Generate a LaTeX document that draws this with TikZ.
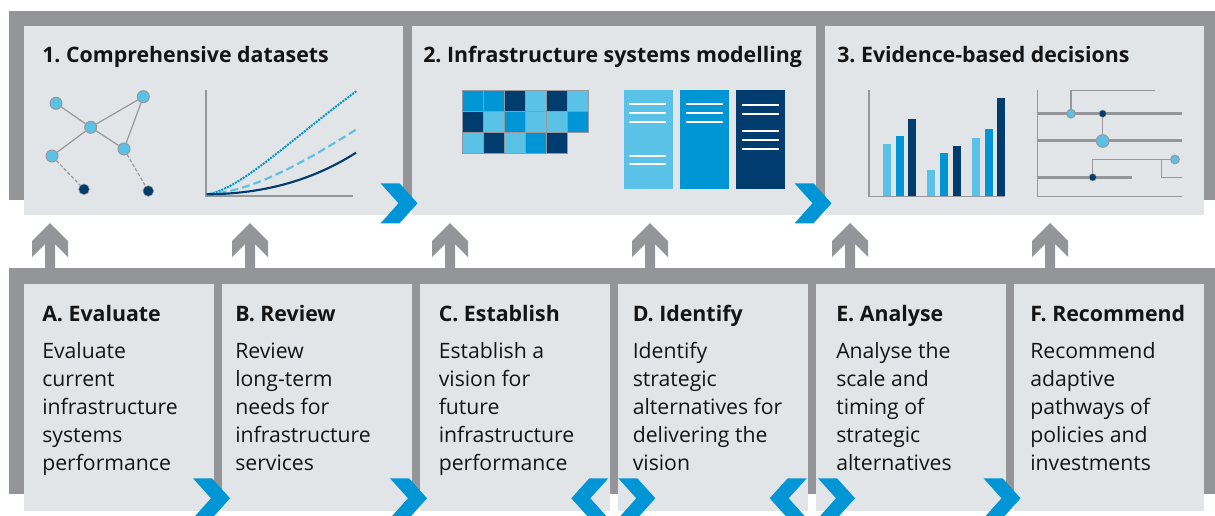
\documentclass[tikz,border=0pt]{standalone}
\usepackage{fontspec}
\setmainfont{Open Sans}
\frenchspacing
\definecolor{framec}{RGB}{147,149,152}
\definecolor{panelc}{RGB}{226,229,231}
\definecolor{lblue}{RGB}{91,194,231}
\definecolor{mblue}{RGB}{0,150,214}
\definecolor{navy}{RGB}{0,60,110}
\definecolor{icongray}{RGB}{150,152,155}
\definecolor{txt}{RGB}{20,20,20}
\newcommand\chevR[2]{\fill[chev] (#1,#2) -- ++(19,0) -- ++(18,20) -- ++(-18,20) -- ++(-19,0) -- ++(18,-20) -- cycle;}
\newcommand\chevL[2]{\fill[chev] (#1,#2) -- ++(-19,0) -- ++(-18,20) -- ++(18,20) -- ++(19,0) -- ++(-18,-20) -- cycle;}
\begin{document}
\begin{tikzpicture}[x=0.75pt,y=-0.75pt,
  panel/.style={fill=panelc},
  framebg/.style={fill=framec},
  chev/.style={fill=mblue},
  title/.style={font=\fontsize{16}{18}\selectfont\bfseries, text=txt, anchor=base west, inner sep=0pt},
  head/.style={font=\fontsize{16}{18}\selectfont\bfseries, text=txt, anchor=base west, inner sep=0pt},
  body/.style={font=\fontsize{15.9}{21}\selectfont, text=txt, anchor=base west, inner sep=0pt, align=left},
  lnode/.style={circle, fill=lblue, draw=icongray, line width=0.75pt, minimum size=9pt, inner sep=0pt},
  dnode/.style={circle, fill=navy, draw=icongray, line width=0.4pt, minimum size=8pt, inner sep=0pt},
  edge/.style={draw=icongray, line width=0.9pt},
  axis/.style={draw=icongray, line width=0.8pt},
  thick line/.style={draw=framec, line width=1.9pt},
  thin line/.style={draw=icongray, line width=0.9pt},
  docline/.style={draw=white, line width=1.5pt}
]
\useasboundingbox (0,0) rectangle (1215,515);

% ---------- top frame and panels ----------
\path[framebg] (9,11) rectangle (1215,200);
\path[panel] (24,26) rectangle (403,215);
\path[panel] (412,26) rectangle (816,215);
\path[panel] (825,26) rectangle (1204,215);

% ---------- bottom frame and panels ----------
\path[framebg] (9,268) rectangle (1215,494);
\foreach \x in {24,222,420,618,816,1014}{
  \path[panel] (\x,284) rectangle (\x+190,511);
}

% ---------- up arrows ----------
\foreach \ax in {50,250,450,650,850,1050}{
  \fill[framec] (\ax,223) -- ++(18,18) -- ++(0,16) -- ++(-13,-13) -- ++(0,25) -- ++(-10,0) -- ++(0,-25) -- ++(-13,13) -- ++(0,-16) -- cycle;
}

% ---------- titles ----------
\node[title] (t1) at (42,62) {1. Comprehensive datasets};
\node[title] (t2) at (423,62) {2. Infrastructure systems modelling};
\node[title] (t3) at (837,62) {3. Evidence-based decisions};

% ---------- panel 1 icons: network ----------
\node[lnode] (n1) at (56,103.3) {};
\node[lnode] (n2) at (143.3,96.7) {};
\node[lnode] (n3) at (90.7,127.3) {};
\node[lnode] (n4) at (124,149) {};
\node[lnode] (n5) at (52,156) {};
\node[dnode] (d1) at (84,189.3) {};
\node[dnode] (d2) at (148.3,191) {};
\draw[edge] (n1) -- (n3);
\draw[edge] (n3) -- (n2);
\draw[edge] (n2) -- (n4);
\draw[edge] (n3) -- (n4);
\draw[edge] (n3) -- (n5);
\draw[edge, dashed, dash pattern=on 2.5pt off 1.5pt] (n5) -- (d1);
\draw[edge, dashed, dash pattern=on 2.5pt off 1.5pt] (n4) -- (d2);

% ---------- panel 1 icons: chart ----------
\coordinate (c0) at (206.7,194.3);
\draw[axis] (206,90) -- (206,196) -- (353,196);
\draw[mblue, line width=1.5pt, dash pattern=on 1.5pt off 0.8pt] (c0) .. controls (240,190) and (290,140) .. (357,90.7);
\draw[lblue, line width=1.6pt, dash pattern=on 6pt off 3pt] (c0) .. controls (250,192) and (300,165) .. (357,129);
\draw[navy, line width=1.6pt] (c0) .. controls (260,194) and (310,182) .. (356,152.7);

% ---------- panel 2 icons: grid ----------
\foreach \c [count=\i from 0] in {mblue,mblue,navy,lblue,navy,lblue}
  \filldraw[fill=\c, draw=icongray, line width=0.75pt] (462.3+21*\i,90) rectangle ++(21,21);
\foreach \c [count=\i from 0] in {navy,lblue,mblue,lblue,lblue,mblue}
  \filldraw[fill=\c, draw=icongray, line width=0.75pt] (462.3+21*\i,111) rectangle ++(21,21);
\foreach \c [count=\i from 0] in {lblue,navy,lblue,mblue,navy}
  \filldraw[fill=\c, draw=icongray, line width=0.75pt] (462.3+21*\i,132) rectangle ++(21,21);

% ---------- panel 2 icons: documents ----------
\fill[lblue] (624,90) rectangle (673,188.7);
\fill[mblue] (680,90) rectangle (729,188.7);
\fill[navy] (736,90) rectangle (785,188.7);
\foreach \y in {104.3,113.3,122.3,155.7,164.3} \draw[docline] (629.3,\y) -- (666.3,\y);
\foreach \y in {104.3,113.3,122.3} \draw[docline] (686,\y) -- (722.7,\y);
\foreach \y in {105.3,114,131,139.7,148.7} \draw[docline] (741.7,\y) -- (778.7,\y);

% ---------- panel 3 icons: bar chart ----------
\fill[lblue] (883,144) rectangle (891,196.7);
\fill[mblue] (896,136) rectangle (904,196.7);
\fill[navy] (908,119) rectangle (916,196.7);
\fill[lblue] (927,170) rectangle (935,196.7);
\fill[mblue] (940,153) rectangle (948,196.7);
\fill[navy] (953,146) rectangle (961,196.7);
\fill[lblue] (972,138) rectangle (980,196.7);
\fill[mblue] (985,129) rectangle (993,196.7);
\fill[navy] (997,98) rectangle (1005,196.7);
\draw[axis] (869,90) -- (869,196.7) -- (1005,196.7);

% ---------- panel 3 icons: decision tree ----------
\draw[axis] (1037.5,90) -- (1037.5,196.5) -- (1181.5,196.5);
\draw[thick line] (1037.5,113.7) -- (1181.5,113.7);
\draw[thick line] (1037.5,140.7) -- (1181.5,140.7);
\draw[thick line] (1037.5,177.3) -- (1131.7,177.3);
\node[lnode, minimum size=6.5pt] (k1) at (1071,113.7) {};
\node[dnode, minimum size=5.5pt] (k2) at (1102.7,113.7) {};
\node[lnode, minimum size=9.5pt] (k3) at (1102.7,141) {};
\node[lnode, minimum size=6.5pt] (k4) at (1175,159.5) {};
\node[dnode, minimum size=5.5pt] (k5) at (1092.7,177.3) {};
\draw[thin line] (k1) |- (1155,90.7);
\draw[thin line] (k2) -- (k3);
\draw[thin line] (k5) |- (k4);
\draw[thin line] (1161.7,159.5) |- (1181.5,177.3);

% ---------- top chevrons ----------
\chevR{380.5}{183.3}
\chevR{794.5}{183.3}

% ---------- bottom headings and texts ----------
\node[head] (hA) at (42,321) {A. Evaluate};
\node[head] (hB) at (235,321) {B. Review};
\node[head] (hC) at (438.5,321) {C. Establish};
\node[head] (hD) at (632.5,321) {D. Identify};
\node[head] (hE) at (836,321) {E. Analyse};
\node[head] (hF) at (1030,321) {F. Recommend};
% multi-line nodes: base anchor sits on the last line (5 lines, 28px pitch)
\node[body] (bA) at (42,470) {Evaluate\\current\\infrastructure\\systems\\performance};
\node[body] (bB) at (235,470) {Review\\long-term\\needs for\\infrastructure\\services};
\node[body] (bC) at (438.5,470) {Establish a\\vision for\\future\\infrastructure\\performance};
\node[body] (bD) at (632.5,470) {Identify\\strategic\\alternatives for\\delivering the\\vision};
\node[body] (bE) at (836,470) {Analyse the\\scale and\\timing of\\strategic\\alternatives};
\node[body] (bF) at (1030,470) {Recommend\\adaptive\\pathways of\\policies and\\investments};

% ---------- bottom chevrons ----------
\chevR{193}{478.3}
\chevR{390}{478.3}
\chevL{608.3}{478.3}
\chevR{618.3}{478.3}
\chevL{806.7}{478.3}
\chevR{818}{478.3}
\chevR{983.5}{478.3}
\end{tikzpicture}
\end{document}
